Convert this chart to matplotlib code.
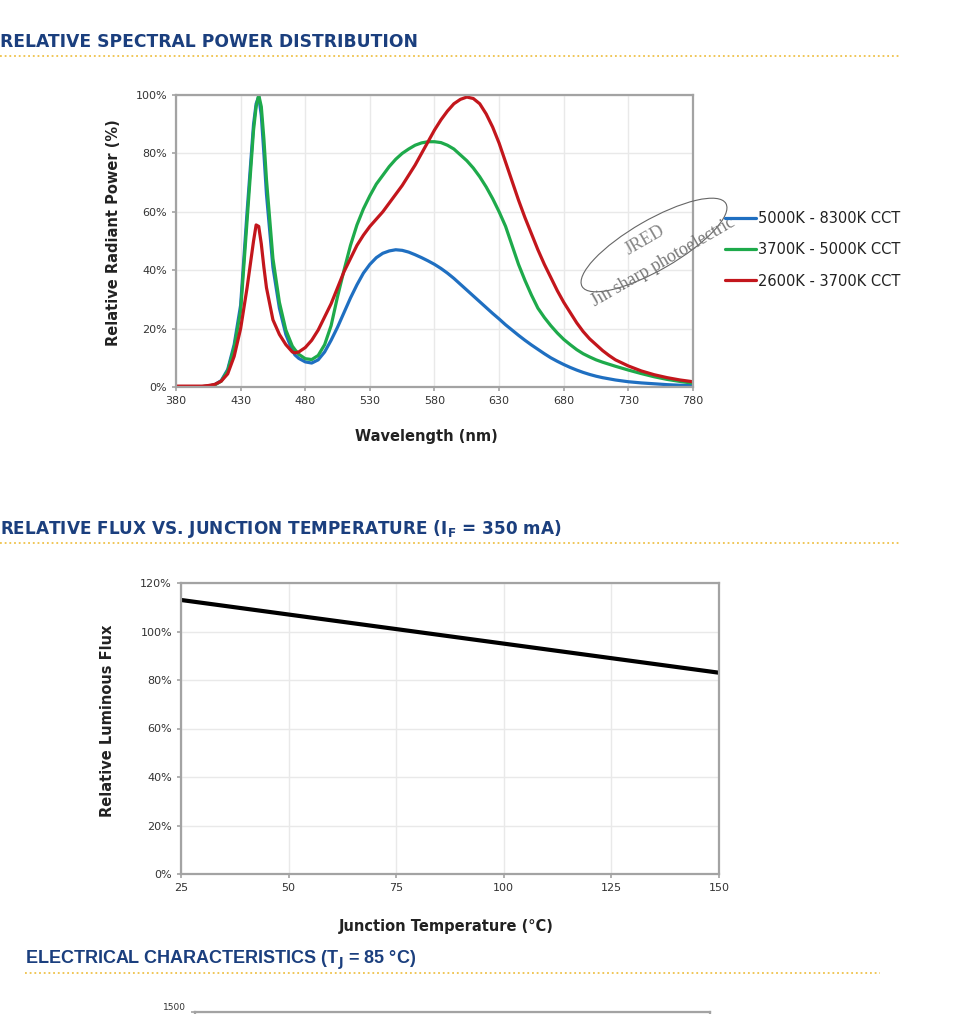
import matplotlib
matplotlib.use('Agg')
import matplotlib.pyplot as plt
from matplotlib.lines import Line2D
from matplotlib.patches import Ellipse
from matplotlib.ticker import FuncFormatter

# ---- data ----
wavelength = [380, 390, 400, 405, 410, 415, 420, 425, 430, 435, 440, 442, 444, 446, 448, 450,
              455, 460, 465, 470, 472, 475, 480, 485, 490, 495, 500, 505, 510, 515, 520, 525,
              530, 535, 540, 545, 550, 555, 560, 565, 570, 575, 580, 585, 590, 595, 600, 605,
              610, 615, 620, 625, 630, 635, 640, 645, 650, 655, 660, 665, 670, 675, 680, 685,
              690, 695, 700, 705, 710, 715, 720, 730, 740, 750, 760, 770, 780]

cct_5000_8300 = [0, 0, 0.1, 0.3, 0.8, 2.2, 6, 14.5, 28, 60, 90, 97, 99.5, 93, 80, 66,
                 41, 27, 18, 12.5, 11, 9.8, 8.6, 8.2, 9.3, 12, 16, 20.5, 25.5, 30.5, 35, 39,
                 42, 44.3, 45.8, 46.6, 47, 46.8, 46.2, 45.3, 44.3, 43.2, 42, 40.6, 39, 37.2, 35.2, 33.2,
                 31.2, 29.2, 27.2, 25.2, 23.3, 21.3, 19.5, 17.7, 16, 14.4, 12.9, 11.4, 10, 8.8, 7.7, 6.7,
                 5.8, 5, 4.3, 3.7, 3.2, 2.8, 2.4, 1.8, 1.4, 1.1, 0.8, 0.6, 0.5]

cct_3700_5000 = [0, 0, 0.1, 0.3, 0.7, 2, 5.5, 13.5, 26, 57, 88, 96, 100, 96, 85, 71,
                 44, 29, 19.5, 14, 12.8, 11.2, 9.7, 9.4, 10.8, 14.5, 21, 31, 40, 48.5, 55.5, 61,
                 65.5, 69.5, 72.5, 75.5, 78, 80, 81.5, 82.8, 83.6, 84, 84, 83.7, 82.8, 81.5, 79.5, 77.5,
                 75, 72, 68.5, 64.5, 60, 55, 48.5, 42, 36.5, 31.5, 27, 23.8, 21, 18.5, 16.3, 14.5,
                 12.8, 11.4, 10.3, 9.3, 8.5, 7.8, 7.1, 5.8, 4.6, 3.5, 2.6, 1.9, 1.3]

cct_2600_3700 = [0.3, 0.3, 0.3, 0.5, 0.9, 2, 4.5, 10.5, 20, 34, 50, 55.5, 55, 49, 41, 34,
                 23, 18, 14.5, 12, 11.7, 12, 13.5, 16, 19.5, 24, 28.5, 34, 39.5, 44, 48.5, 52,
                 55, 57.5, 60, 63, 66, 69, 72.5, 76, 80, 84, 88, 91.5, 94.5, 97, 98.5, 99.3,
                 98.8, 97, 93.5, 89, 83.5, 77, 70.5, 64, 58, 52.5, 47, 42, 37.5, 33, 29, 25.5,
                 22, 19, 16.5, 14.5, 12.5, 10.8, 9.3, 7.2, 5.5, 4.2, 3.2, 2.4, 1.8]

series_labels = ['5000K - 8300K CCT', '3700K - 5000K CCT', '2600K - 3700K CCT']
series_colors = ['#1f6fc1', '#1eaa4b', '#c3161c']

junction_temp = [25, 50, 75, 100, 125, 150]
relative_flux = [113, 107, 101, 95, 89, 83]

wl_ticks = [380, 430, 480, 530, 580, 630, 680, 730, 780]
spd_ticks = [0, 20, 40, 60, 80, 100]
temp_ticks = [25, 50, 75, 100, 125, 150]
flux_ticks = [0, 20, 40, 60, 80, 100, 120]
elec_ticks = [1500]

W, H = 960, 1014
plt.rcParams['mathtext.fontset'] = 'custom'
plt.rcParams['mathtext.rm'] = 'DejaVu Sans:bold'
plt.rcParams['mathtext.default'] = 'rm'

fig = plt.figure(figsize=(W / 100, H / 100), dpi=100)
fig.patch.set_facecolor('white')

HEAD_COLOR = '#1b3f7e'
DOT_COLOR = '#efc24a'
AX_COLOR = '#a3a3a3'
GRID_COLOR = '#e9e9e9'


def px_axes(left, top, right, bottom):
    return fig.add_axes([left / W, 1 - bottom / H, (right - left) / W, (bottom - top) / H])


def fy(y):
    return 1 - y / H


def dotted_rule(x0, x1, y):
    fig.add_artist(Line2D([x0 / W, x1 / W], [fy(y), fy(y)], transform=fig.transFigure,
                          color=DOT_COLOR, lw=1.3, linestyle=(0, (1, 1.6))))


def excel_style(ax):
    for s in ax.spines.values():
        s.set_color(AX_COLOR)
        s.set_linewidth(1.6)
    ax.grid(True, color=GRID_COLOR, lw=1.0)
    ax.set_axisbelow(True)
    ax.tick_params(colors=AX_COLOR, labelcolor='#333333', labelsize=8, length=3, width=1.2)
    ax.yaxis.set_major_formatter(FuncFormatter(lambda v, p: '%d%%' % v))


# ---- section headers ----
fig.text(0, fy(42), 'RELATIVE SPECTRAL POWER DISTRIBUTION', fontsize=12.3, fontweight='bold',
         color=HEAD_COLOR, va='center', ha='left')
dotted_rule(0, 900, 56)

fig.text(0, fy(529), r'RELATIVE FLUX VS. JUNCTION TEMPERATURE (I$_{F}$ = 350 mA)', fontsize=12.2,
         fontweight='bold', color=HEAD_COLOR, va='center', ha='left')
dotted_rule(0, 900, 543)

fig.text(25 / W, fy(960), r'ELECTRICAL CHARACTERISTICS (T$_{J}$ = 85 °C)', fontsize=13,
         fontweight='bold', color=HEAD_COLOR, va='center', ha='left',
         family=['Liberation Sans Narrow', 'Liberation Sans', 'DejaVu Sans'])
dotted_rule(25, 880, 973)

# ---- spectral power distribution ----
ax1 = px_axes(176, 95, 693, 387)
for vals, lab, col in zip([cct_5000_8300, cct_3700_5000, cct_2600_3700], series_labels, series_colors):
    ax1.plot(wavelength, vals, color=col, lw=2.3, label=lab, solid_capstyle='round')
ax1.set_xlim(380, 780)
ax1.set_ylim(0, 100)
ax1.set_xticks(wl_ticks)
ax1.set_yticks(spd_ticks)
excel_style(ax1)
fig.text(113 / W, fy(233), 'Relative Radiant Power (%)', rotation=90, fontsize=10.5,
         fontweight='bold', color='#222222', ha='center', va='center')
fig.text(426 / W, fy(436), 'Wavelength (nm)', fontsize=10.5, fontweight='bold',
         color='#222222', ha='center', va='center')

leg = fig.legend(loc='center left', bbox_to_anchor=(712 / W, fy(250)), frameon=False,
                 fontsize=10.5, handlelength=2.1, handletextpad=0.15, labelspacing=1.1)
for t in leg.get_texts():
    t.set_color('#222222')

# watermark
inch = fig.dpi_scale_trans
fig.add_artist(Ellipse((6.54, (H - 245) / 100), 1.66, 0.5, angle=30, transform=inch,
                       fill=False, ec='#666666', lw=0.8))
fig.text(663 / W, fy(262), 'Jin sharp photoelectric', rotation=30, rotation_mode='anchor',
         ha='center', va='center', fontsize=13, color='#777777', family='Liberation Serif')
fig.text(645 / W, fy(240), 'JRED', rotation=30, rotation_mode='anchor', ha='center',
         va='center', fontsize=13, color='#888888', family='Liberation Serif')

# ---- relative flux vs junction temperature ----
ax2 = px_axes(181, 583, 719, 874)
ax2.plot(junction_temp, relative_flux, color='black', lw=3.0)
ax2.set_xlim(25, 150)
ax2.set_ylim(0, 120)
ax2.set_xticks(temp_ticks)
ax2.set_yticks(flux_ticks)
excel_style(ax2)
fig.text(108 / W, fy(721), 'Relative Luminous Flux', rotation=90, fontsize=10.5,
         fontweight='bold', color='#222222', ha='center', va='center')
fig.text(446 / W, fy(926), 'Junction Temperature (°C)', fontsize=10.5, fontweight='bold',
         color='#222222', ha='center', va='center')

# ---- electrical characteristics (cut off at the bottom edge) ----
ax3 = px_axes(195, 1012, 710, 1400)
ax3.set_ylim(0, 1500)
ax3.set_xlim(0, 1)
ax3.set_yticks(elec_ticks)
ax3.set_xticks([])
excel_style(ax3)
ax3.yaxis.set_major_formatter(FuncFormatter(lambda v, p: '%d' % v))
ax3.tick_params(labelsize=6.5)
for lab in ax3.get_yticklabels():
    lab.set_verticalalignment('bottom')

fig.savefig('out.png', dpi=100, facecolor='white')
